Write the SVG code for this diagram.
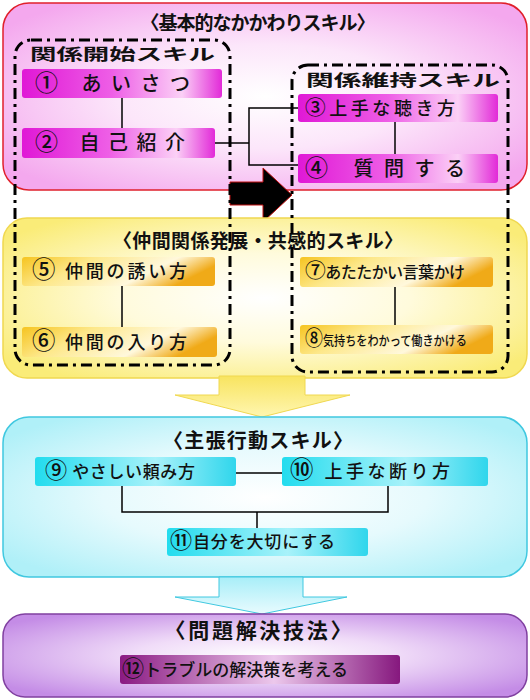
<svg xmlns="http://www.w3.org/2000/svg" width="530" height="700" viewBox="0 0 530 700">
<defs>
<radialGradient id="gPink" cx="50%" cy="50%" r="62%">
<stop offset="0" stop-color="#ffffff"/><stop offset="0.45" stop-color="#fce6fa"/><stop offset="1" stop-color="#f4a8ee"/>
</radialGradient>
<radialGradient id="gYel" cx="50%" cy="50%" r="62%">
<stop offset="0" stop-color="#ffffff"/><stop offset="0.45" stop-color="#fffbdc"/><stop offset="1" stop-color="#faec78"/>
</radialGradient>
<radialGradient id="gCyan" cx="50%" cy="50%" r="62%">
<stop offset="0" stop-color="#ffffff"/><stop offset="0.5" stop-color="#e6fafd"/><stop offset="1" stop-color="#b0f0f8"/>
</radialGradient>
<radialGradient id="gPur" cx="50%" cy="50%" r="62%">
<stop offset="0" stop-color="#ffffff"/><stop offset="0.4" stop-color="#f0dcf8"/><stop offset="1" stop-color="#c48ce6"/>
</radialGradient>
<linearGradient id="nMag" x1="0" y1="0" x2="1" y2="0">
<stop offset="0" stop-color="#e018d6"/><stop offset="0.45" stop-color="#ee5ee6"/><stop offset="0.8" stop-color="#fbd0f6"/><stop offset="1" stop-color="#e22ad8"/>
</linearGradient>
<linearGradient id="nGold" x1="0" y1="0" x2="1" y2="0.3">
<stop offset="0" stop-color="#f6c420"/><stop offset="0.35" stop-color="#fde88a"/><stop offset="0.75" stop-color="#fff8dc"/><stop offset="1" stop-color="#f0aa18"/>
</linearGradient>
<linearGradient id="nCyan" x1="0" y1="0" x2="1" y2="0">
<stop offset="0" stop-color="#22dcee"/><stop offset="0.6" stop-color="#a8f2fa"/><stop offset="1" stop-color="#30d6ec"/>
</linearGradient>
<linearGradient id="nPur" x1="0" y1="0" x2="1" y2="0">
<stop offset="0" stop-color="#8a1a82"/><stop offset="0.55" stop-color="#ecc8ec"/><stop offset="1" stop-color="#86187e"/>
</linearGradient>
<linearGradient id="aYel" x1="0" y1="0" x2="0" y2="1">
<stop offset="0" stop-color="#f8e460"/><stop offset="1" stop-color="#fff6b0"/>
</linearGradient>
<linearGradient id="aCyan" x1="0" y1="0" x2="0" y2="1">
<stop offset="0" stop-color="#a8eef8"/><stop offset="1" stop-color="#e8fbfe"/>
</linearGradient>
<style>
text{font-family:"Noto Sans CJK JP","Noto Sans",sans-serif;fill:#111}
.title{font-size:19px;font-weight:bold;text-anchor:middle}
.grp{font-size:16px;font-weight:bold}
.nt{font-size:18px;font-weight:500}
.c{font-size:1.3em}
.c2{font-size:1.15em}
.dash{fill:none;stroke:#000;stroke-width:3;stroke-dasharray:11 5 3 5}
.conn{fill:none;stroke:#000;stroke-width:1.5}
</style>
</defs>

<g id="region-basic">
<rect x="3" y="3" width="524" height="187" rx="26" fill="url(#gPink)" stroke="#e0202c" stroke-width="1.5"/>
<text class="title" x="258" y="30" textLength="235">〈基本的なかかわりスキル〉</text>
</g>

<g id="arrow-black">
<polygon points="230,182 263,182 263,168 292,195 263,222 263,205 230,205" fill="#000" stroke="#c01010" stroke-width="1"/>
</g>

<g id="region-peer">
<rect x="3" y="218" width="524" height="160" rx="24" fill="url(#gYel)" stroke="#f0d850" stroke-width="1.5"/>
<text class="title" x="258" y="248" textLength="290">〈仲間関係発展・共感的スキル〉</text>
</g>

<g id="arrow-yellow">
<polygon points="219,376 305,376 305,395 350,395 262,417 175,395 219,395" fill="url(#aYel)" stroke="#f0d850" stroke-width="1"/>
</g>

<g id="region-assert">
<rect x="3" y="417" width="524" height="160" rx="26" fill="url(#gCyan)" stroke="#40c8e0" stroke-width="1.5"/>
<text class="title" x="258" y="448" textLength="190" style="font-size:20px">〈主張行動スキル〉</text>
</g>

<g id="arrow-cyan">
<polygon points="219,577 303,577 303,597 347,597 262,614 175,597 219,597" fill="url(#aCyan)" stroke="#40c8e0" stroke-width="1"/>
</g>

<g id="region-problem">
<rect x="3" y="614" width="524" height="83" rx="22" fill="url(#gPur)" stroke="#8040a0" stroke-width="1.5"/>
<text class="title" x="258" y="638" textLength="187" style="font-size:21px">〈問題解決技法〉</text>
</g>

<g id="connectors">
<line class="conn" x1="122" y1="98" x2="122" y2="128"/>
<polyline class="conn" points="215,143 249,143"/>
<polyline class="conn" points="298,108 249,108 249,165 298,165"/>
<line class="conn" x1="395" y1="122" x2="395" y2="154"/>
<line class="conn" x1="122" y1="286" x2="122" y2="327"/>
<line class="conn" x1="395" y1="287" x2="395" y2="325"/>
<line class="conn" x1="236" y1="473" x2="282" y2="473"/>
<polyline class="conn" points="122,486 122,512 388,512 388,486"/>
<line class="conn" x1="257" y1="512" x2="257" y2="528"/>
</g>

<g id="node-1"><rect x="22" y="69" width="200" height="29" rx="3" fill="url(#nMag)"/><text class="nt" x="35" y="91" style="font-size:20px" textLength="155"><tspan class="c2">①</tspan> あいさつ</text></g>
<g id="node-2"><rect x="22" y="128" width="193" height="30" rx="3" fill="url(#nMag)"/><text class="nt" x="35" y="150" style="font-size:20px" textLength="150"><tspan class="c2">②</tspan> 自己紹介</text></g>
<g id="node-3"><rect x="298" y="94" width="200" height="28" rx="3" fill="url(#nMag)"/><text class="nt" x="305" y="115" textLength="150"><tspan class="c2">③</tspan>上手な聴き方</text></g>
<g id="node-4"><rect x="298" y="154" width="200" height="29" rx="3" fill="url(#nMag)"/><text class="nt" x="305" y="176" style="font-size:20px" textLength="160"><tspan class="c2">④</tspan> 質問する</text></g>

<g id="node-5"><rect x="22" y="257" width="193" height="29" rx="3" fill="url(#nGold)"/><text class="nt" x="32" y="278" textLength="155"><tspan class="c">⑤</tspan> 仲間の誘い方</text></g>
<g id="node-6"><rect x="22" y="327" width="195" height="30" rx="3" fill="url(#nGold)"/><text class="nt" x="32" y="349" textLength="155"><tspan class="c">⑥</tspan> 仲間の入り方</text></g>
<g id="node-7"><rect x="300" y="257" width="193" height="30" rx="3" fill="url(#nGold)"/><text class="nt" x="305" y="278" style="font-size:16px" textLength="160"><tspan class="c">⑦</tspan>あたたかい言葉かけ</text></g>
<g id="node-8"><rect x="300" y="325" width="193" height="29" rx="3" fill="url(#nGold)"/><text class="nt" x="305" y="345" style="font-size:13px" textLength="162" lengthAdjust="spacingAndGlyphs"><tspan style="font-size:21px">⑧</tspan>気持ちをわかって働きかける</text></g>

<g id="node-9"><rect x="35" y="457" width="201" height="29" rx="3" fill="url(#nCyan)"/><text class="nt" x="45" y="478" style="font-size:17px" textLength="150"><tspan class="c">⑨</tspan> やさしい頼み方</text></g>
<g id="node-10"><rect x="282" y="457" width="206" height="29" rx="3" fill="url(#nCyan)"/><text class="nt" x="290" y="478" textLength="160"><tspan class="c">⑩</tspan> 上手な断り方</text></g>
<g id="node-11"><rect x="167" y="528" width="201" height="28" rx="3" fill="url(#nCyan)"/><text class="nt" x="170" y="548" style="font-size:17px" textLength="165"><tspan class="c">⑪</tspan>自分を大切にする</text></g>

<g id="node-12"><rect x="120" y="655" width="280" height="29" rx="3" fill="url(#nPur)"/><text class="nt" x="122" y="676" style="font-size:17px" textLength="226"><tspan class="c">⑫</tspan>トラブルの解決策を考える</text></g>

<g id="group-start">
<rect class="dash" x="15" y="40" width="215" height="325" rx="16"/>
<text class="grp" x="30" y="60" textLength="185" lengthAdjust="spacingAndGlyphs">関係開始スキル</text>
</g>
<g id="group-maintain">
<rect class="dash" x="292" y="65" width="216" height="307" rx="16"/>
<text class="grp" x="306" y="86" textLength="194" lengthAdjust="spacingAndGlyphs">関係維持スキル</text>
</g>
</svg>
